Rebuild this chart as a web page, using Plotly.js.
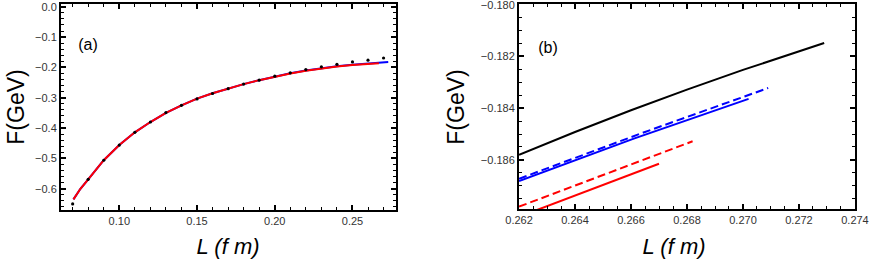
<!DOCTYPE html>
<html>
<head>
<meta charset="utf-8">
<script src="https://cdn.plot.ly/plotly-3.0.1.min.js"></script>
<style>
html,body{margin:0;padding:0;background:#fff;}
#wrap{position:relative;width:872px;height:262px;}
#chart{width:872px;height:262px;}
.lbl{position:absolute;font-family:'Liberation Sans', Arial, sans-serif;color:#000;line-height:1;white-space:nowrap;transform:translate(-50%,-50%);pointer-events:none;}
.rot{transform:translate(-50%,-50%) rotate(-90deg);}
#status{position:absolute;left:0;top:0;width:1px;height:1px;overflow:hidden;color:transparent;font-size:1px;}
</style>
</head>
<body>
<div id="wrap">
  <div id="chart"></div>
  <div class="lbl" style="left:88px;top:45px;font-size:16px;">(a)</div>
  <div class="lbl" style="left:548px;top:48px;font-size:16px;">(b)</div>
  <div class="lbl rot" style="left:16px;top:107px;font-size:23px;">F(GeV)</div>
  <div class="lbl rot" style="left:456px;top:107px;font-size:23px;">F(GeV)</div>
  <div class="lbl" style="left:228px;top:247px;font-size:22px;font-style:italic;">L (f m)</div>
  <div class="lbl" style="left:674px;top:247px;font-size:22px;font-style:italic;">L (f m)</div>
</div>
<div id="status"></div>
<script>
// ---- Panel (a) data ----
const dotsL = [0.07,0.08,0.09,0.10,0.11,0.12,0.13,0.14,0.15,0.16,0.17,0.18,0.19,0.20,0.21,0.22,0.23,0.24,0.25,0.26,0.27];
const dotsF = [-0.650,-0.569,-0.506,-0.456,-0.414,-0.380,-0.349,-0.325,-0.304,-0.286,-0.270,-0.255,-0.242,-0.229,-0.218,-0.207,-0.198,-0.190,-0.182,-0.176,-0.169];

const redAL = [0.0705,0.075,0.08,0.085,0.09,0.10,0.11,0.12,0.13,0.14,0.15,0.16,0.17,0.18,0.19,0.20,0.21,0.22,0.23,0.24,0.25,0.26,0.267];
const redAF = [-0.635,-0.600,-0.569,-0.537,-0.506,-0.456,-0.414,-0.380,-0.350,-0.325,-0.303,-0.285,-0.269,-0.255,-0.242,-0.230,-0.220,-0.211,-0.203,-0.197,-0.192,-0.1886,-0.1862];

const blueAL = [0.0705,0.075,0.08,0.085,0.09,0.10,0.11,0.12,0.13,0.14,0.15,0.16,0.17,0.18,0.19,0.20,0.21,0.22,0.23,0.24,0.25,0.26,0.265,0.27,0.273];
const blueAF = [-0.635,-0.600,-0.569,-0.537,-0.506,-0.456,-0.414,-0.380,-0.350,-0.325,-0.303,-0.285,-0.269,-0.255,-0.242,-0.230,-0.219,-0.210,-0.202,-0.196,-0.191,-0.1876,-0.1856,-0.1836,-0.1824];

// ---- Panel (b) data ----
const blackBL = [0.262,0.264,0.266,0.268,0.270,0.2729];
const blackBF = [-0.18580,-0.18492,-0.18408,-0.18328,-0.18252,-0.18148];

const blueDashL = [0.262,0.2665,0.2709];
const blueDashF = [-0.18673,-0.18492,-0.18322];

const blueSolidL = [0.262,0.2661,0.2702];
const blueSolidF = [-0.18682,-0.18518,-0.18364];

const redDashL = [0.262,0.2651,0.2682];
const redDashF = [-0.18781,-0.18653,-0.18528];

const redSolidL = [0.262,0.2645,0.267];
const redSolidF = [-0.18820,-0.18716,-0.18615];

const W = 872, H = 262;
function px(x){return x/W;}
function py(y){return 1 - y/H;}

const traces = [
  {x: blueAL, y: blueAF, mode:'lines', line:{color:'#0000ff', width:2}},
  {x: redAL, y: redAF, mode:'lines', line:{color:'#ff0000', width:2}},
  {x: dotsL, y: dotsF, mode:'markers', marker:{color:'#000', size:3.2}},
  {x: blackBL, y: blackBF, xaxis:'x2', yaxis:'y2', mode:'lines', line:{color:'#000', width:2}},
  {x: blueDashL, y: blueDashF, xaxis:'x2', yaxis:'y2', mode:'lines', line:{color:'#0000ff', width:2, dash:'8px,4px'}},
  {x: blueSolidL, y: blueSolidF, xaxis:'x2', yaxis:'y2', mode:'lines', line:{color:'#0000ff', width:2}},
  {x: redDashL, y: redDashF, xaxis:'x2', yaxis:'y2', mode:'lines', line:{color:'#ff0000', width:2, dash:'8px,4px'}},
  {x: redSolidL, y: redSolidF, xaxis:'x2', yaxis:'y2', mode:'lines', line:{color:'#ff0000', width:2}}
];

function axisBase(dt, mdt, fmt){
  return {
    showgrid:false, zeroline:false, showline:true, linecolor:'#000', linewidth:2,
    mirror:'allticks', ticks:'inside', ticklen:5, tickwidth:1.6, tickcolor:'#000',
    tickmode:'linear', dtick:dt, tick0:0, tickformat:fmt,
    tickfont:{family:'Liberation Sans, Arial, sans-serif', size:11, color:'#333'},
    minor:{ticks:'inside', ticklen:3, tickwidth:1.3, tickcolor:'#000', dtick:mdt}
  };
}

const layout = {
  width:W, height:H, margin:{l:0,r:0,t:0,b:0},
  paper_bgcolor:'#fff', plot_bgcolor:'#fff', showlegend:false,
  xaxis: Object.assign(axisBase(0.05, 0.01, '.2f'), {domain:[px(61),px(396)], range:[0.0625,0.278]}),
  yaxis: Object.assign(axisBase(0.1, 0.02, '.1f'), {domain:[py(210),py(4)], range:[-0.670,0.009]}),
  xaxis2: Object.assign(axisBase(0.002, 0.0005, '.3f'), {domain:[px(519),px(855)], range:[0.261999,0.274001], anchor:'y2'}),
  yaxis2: Object.assign(axisBase(0.002, 0.0005, '.3f'), {domain:[py(209),py(4)], range:[-0.1879,-0.17997], anchor:'x2', ticklabeloverflow:'allow'})
};

Plotly.newPlot('chart', traces, layout, {displayModeBar:false}).then(function(){
  return Plotly.relayout('chart', {'xaxis.ticklen':5, 'yaxis.ticklen':5, 'xaxis2.ticklen':5, 'yaxis2.ticklen':5});
}).then(function(){
  const n = document.querySelectorAll('path.xtick, path.ytick, path.x2tick, path.y2tick').length;
  document.getElementById('status').setAttribute('data-ticks', String(n));
  document.getElementById('status').textContent = '\u00a0';
});
</script>
</body>
</html>
